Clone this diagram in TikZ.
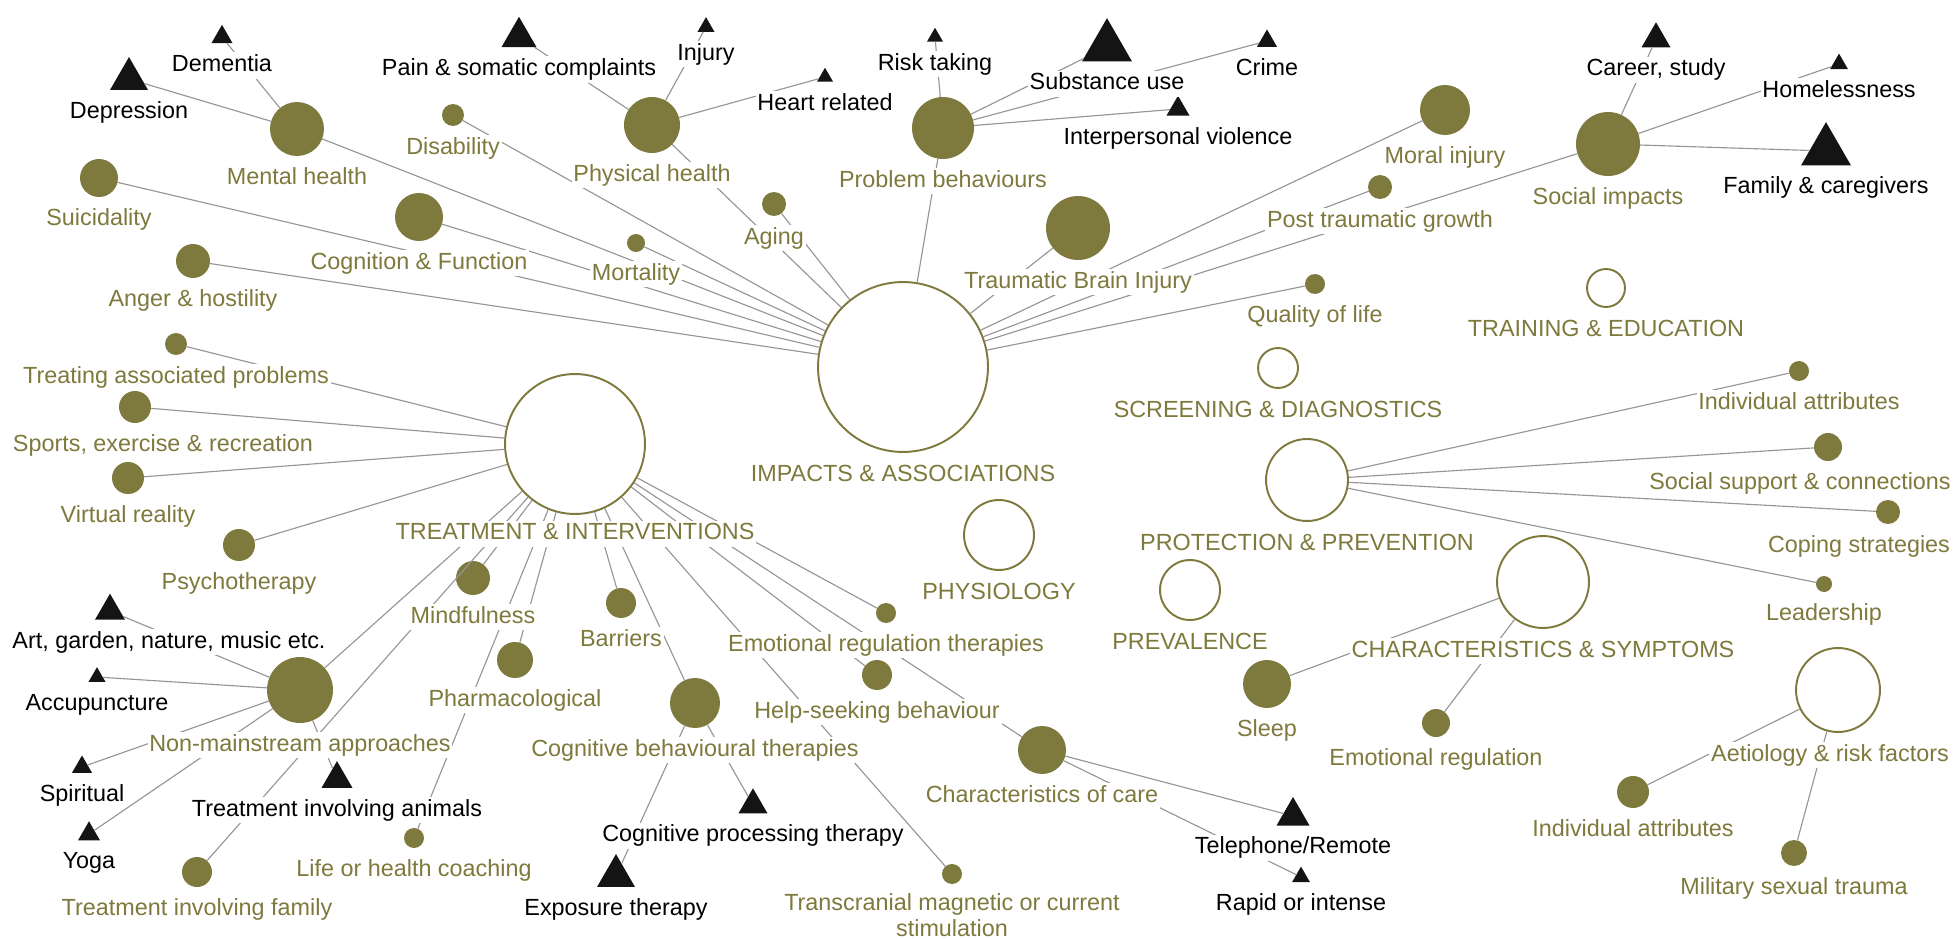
\documentclass[tikz,border=0pt]{standalone}
\usepackage{fontspec}
\setmainfont{Liberation Sans}
\usetikzlibrary{positioning,shapes.geometric}

\definecolor{olivedot}{RGB}{126,121,60}
\definecolor{linkgray}{RGB}{150,150,150}

\tikzset{
  theme/.style={circle, draw=olivedot, line width=1.1pt, fill=white, inner sep=0pt, minimum size=#1*0.04cm},
  topic/.style={circle, fill=olivedot, inner sep=0pt, outer sep=0pt, minimum size=#1*0.04cm},
  subtopic/.style={regular polygon, regular polygon sides=3, fill=black!92, inner sep=0pt, outer sep=0pt, minimum size=#1*0.0231cm},
  lbl/.style={text=olivedot, fill=white, inner sep=1pt, text height=10pt, text depth=3pt},
  sublbl/.style={lbl, text=black},
  link/.style={draw=linkgray, line width=0.65pt},
  node distance=5pt,
}

\begin{document}
\begin{tikzpicture}[x=0.02cm, y=-0.02cm, font=\fontsize{13.3}{16}\selectfont]
			\useasboundingbox (0,0) rectangle (1954,939);
			% impacts & associations
			\node (imp) [theme=85] at (903,367) {};
			\node (mh) [topic=27] at (297,129) {};
			\node (dis) [topic=11] at (453,115) {};
			\node (sui) [topic=19] at (99,178) {};
			\node (cog) [topic=24] at (419,217) {};
			\node (ang) [topic=17] at (193,261) {};
			\node (phy) [topic=28] at (652,125) {};
			\node (agi) [topic=12] at (774,204) {};
			\node (mort) [topic=9] at (636,243) {};
			\node (prb) [topic=31] at (943,128) {};
			\node (tbi) [topic=32] at (1078,228) {};
			\node (moi) [topic=25] at (1445,110) {};
			\node (ptg) [topic=12] at (1380,187) {};
			\node (soc) [topic=32] at (1608,144) {};
			\node (qol) [topic=10] at (1315,284) {};
			\node (dem) [subtopic=21] at (222,37) {};
			\node (dep) [subtopic=38] at (129,79) {};
			\node (pain) [subtopic=35] at (519,37) {};
			\node (inj) [subtopic=17] at (706,27) {};
			\node (hrt) [subtopic=16] at (825,77) {};
			\node (rsk) [subtopic=16] at (935,37) {};
			\node (sub) [subtopic=50] at (1107,47) {};
			\node (cri) [subtopic=20] at (1267,41) {};
			\node (ipv) [subtopic=23] at (1178,109) {};
			\node (car) [subtopic=29] at (1656,39) {};
			\node (hom) [subtopic=18] at (1839,64) {};
			\node (fam) [subtopic=50] at (1826,151) {};
			% treatment & interventions
			\node (trt) [theme=70] at (575,444) {};
			\node (tap) [topic=11] at (176,344) {};
			\node (spo) [topic=16] at (135,407) {};
			\node (vr) [topic=16] at (128,478) {};
			\node (psy) [topic=16] at (239,545) {};
			\node (mind) [topic=17] at (473,578) {};
			\node (nonm) [topic=33] at (300,690) {};
			\node (pha) [topic=18] at (515,660) {};
			\node (lhc) [topic=10] at (414,838) {};
			\node (tif) [topic=15] at (197,872) {};
			\node (bar) [topic=15] at (621,603) {};
			\node (cbt) [topic=25] at (695,703) {};
			\node (ert) [topic=10] at (886,613) {};
			\node (hsb) [topic=15] at (877,675) {};
			\node (tms) [topic=10] at (952,874) {};
			\node (coc) [topic=24] at (1042,750) {};
			\node (art) [subtopic=30] at (110,611) {};
			\node (acu) [subtopic=17] at (97,677) {};
			\node (spi) [subtopic=20] at (82,767) {};
			\node (yog) [subtopic=22] at (89,834) {};
			\node (ani) [subtopic=31] at (337,779) {};
			\node (cpt) [subtopic=29] at (753,805) {};
			\node (expo) [subtopic=38] at (616,876) {};
			\node (tel) [subtopic=33] at (1293,816) {};
			\node (rap) [subtopic=18] at (1301,877) {};
			% other themes
			\node (scr) [theme=20] at (1278,368) {};
			\node (trn) [theme=19] at (1606,288) {};
			\node (phys) [theme=35] at (999,535) {};
			\node (prev) [theme=30] at (1190,590) {};
			\node (prot) [theme=41] at (1307,480) {};
			\node (chs) [theme=46] at (1543,582) {};
			\node (aet) [theme=42] at (1838,690) {};
			\node (ia) [topic=10] at (1799,371) {};
			\node (ssc) [topic=14] at (1828,447) {};
			\node (cop) [topic=12] at (1888,512) {};
			\node (lea) [topic=8] at (1824,584) {};
			\node (slp) [topic=24] at (1267,684) {};
			\node (emr) [topic=14] at (1436,723) {};
			\node (iar) [topic=16] at (1633,792) {};
			\node (mst) [topic=13] at (1794,853) {};

			\path[link] (imp) edge (mh) edge (dis) edge (sui) edge (cog) edge (ang)
				edge (phy) edge (agi) edge (mort) edge (prb) edge (tbi)
				edge (moi) edge (ptg) edge (soc) edge (qol)
			(mh) edge (dep) edge (dem)
			(phy) edge (pain) edge (inj) edge (hrt)
			(prb) edge (rsk) edge (sub) edge (cri) edge (ipv)
			(soc) edge (car) edge (hom) edge (fam)
			(trt) edge (tap) edge (spo) edge (vr) edge (psy) edge (nonm)
				edge (tif) edge (mind) edge (pha) edge (lhc) edge (bar)
				edge (cbt) edge (hsb) edge (tms) edge (coc) edge (ert)
			(nonm) edge (art) edge (acu) edge (spi) edge (yog) edge (ani)
			(cbt) edge (cpt) edge (expo)
			(coc) edge (tel) edge (rap)
			(prot) edge (ia) edge (ssc) edge (cop) edge (lea)
			(chs) edge (slp) edge (emr)
			(aet) edge (iar) edge (mst);

			% labels, drawn last so that they mask the links
			\node (impl) [lbl, below=of imp] {IMPACTS \& ASSOCIATIONS};
			\node (mhl) [lbl, below=of mh] {Mental health};
			\node (disl) [lbl, below=of dis] {Disability};
			\node (suil) [lbl, below=of sui] {Suicidality};
			\node (cogl) [lbl, below=of cog] {Cognition \& Function};
			\node (angl) [lbl, below=of ang] {Anger \& hostility};
			\node (phyl) [lbl, below=of phy] {Physical health};
			\node (agil) [lbl, below=of agi] {Aging};
			\node (mortl) [lbl, below=of mort] {Mortality};
			\node (prbl) [lbl, below=of prb] {Problem behaviours};
			\node (tbil) [lbl, below=of tbi] {Traumatic Brain Injury};
			\node (moil) [lbl, below=of moi] {Moral injury};
			\node (ptgl) [lbl, below=of ptg] {Post traumatic growth};
			\node (socl) [lbl, below=of soc] {Social impacts};
			\node (qoll) [lbl, below=of qol] {Quality of life};
			\node (deml) [sublbl, below=of dem] {Dementia};
			\node (depl) [sublbl, below=of dep] {Depression};
			\node (painl) [sublbl, below=of pain] {Pain \& somatic complaints};
			\node (injl) [sublbl, below=of inj] {Injury};
			\node (hrtl) [sublbl, below=of hrt] {Heart related};
			\node (rskl) [sublbl, below=of rsk] {Risk taking};
			\node (subl) [sublbl, below=of sub] {Substance use};
			\node (cril) [sublbl, below=of cri] {Crime};
			\node (ipvl) [sublbl, below=of ipv] {Interpersonal violence};
			\node (carl) [sublbl, below=of car] {Career, study};
			\node (homl) [sublbl, below=of hom] {Homelessness};
			\node (faml) [sublbl, below=of fam] {Family \& caregivers};

			\node (trtl) [lbl, below=3pt of trt] {TREATMENT \& INTERVENTIONS};
			\node (tapl) [lbl, below=of tap] {Treating associated problems};
			\node (spol) [lbl, below=of spo, xshift=0.56cm] {Sports, exercise \& recreation};
			\node (vrl) [lbl, below=of vr] {Virtual reality};
			\node (psyl) [lbl, below=of psy] {Psychotherapy};
			\node (mindl) [lbl, below=of mind] {Mindfulness};
			\node (nonml) [lbl, below=of nonm] {Non-mainstream approaches};
			\node (phal) [lbl, below=of pha] {Pharmacological};
			\node (lhcl) [lbl, below=of lhc] {Life or health coaching};
			\node (tifl) [lbl, below=of tif] {Treatment involving family};
			\node (barl) [lbl, below=of bar] {Barriers};
			\node (cbtl) [lbl, below=of cbt] {Cognitive behavioural therapies};
			\node (ertl) [lbl, below=of ert] {Emotional regulation therapies};
			\node (hsbl) [lbl, below=of hsb] {Help-seeking behaviour};
			\node (tmsl) [lbl, align=center, text height=, text depth=, font=\fontsize{13.3}{15}\selectfont, below=4pt of tms] {Transcranial magnetic or current\\stimulation};
			\node (cocl) [lbl, below=of coc] {Characteristics of care};
			\node (artl) [sublbl, below=of art, xshift=1.18cm] {Art, garden, nature, music etc.};
			\node (acul) [sublbl, below=of acu] {Accupuncture};
			\node (spil) [sublbl, below=of spi] {Spiritual};
			\node (yogl) [sublbl, below=of yog] {Yoga};
			\node (anil) [sublbl, below=of ani] {Treatment involving animals};
			\node (cptl) [sublbl, below=of cpt] {Cognitive processing therapy};
			\node (expol) [sublbl, below=of expo] {Exposure therapy};
			\node (tell) [sublbl, below=of tel] {Telephone/Remote};
			\node (rapl) [sublbl, below=of rap] {Rapid or intense};

			\node (scrl) [lbl, below=of scr] {SCREENING \& DIAGNOSTICS};
			\node (trnl) [lbl, below=of trn] {TRAINING \& EDUCATION};
			\node (physl) [lbl, below=of phys] {PHYSIOLOGY};
			\node (prevl) [lbl, below=of prev] {PREVALENCE};
			\node (protl) [lbl, below=of prot] {PROTECTION \& PREVENTION};
			\node (chsl) [lbl, below=of chs] {CHARACTERISTICS \& SYMPTOMS};
			\node (aetl) [lbl, below=of aet, xshift=-0.16cm] {Aetiology \& risk factors};
			\node (ial) [lbl, below=of ia] {Individual attributes};
			\node (sscl) [lbl, below=of ssc, xshift=-0.56cm] {Social support \& connections};
			\node (copl) [lbl, below=of cop, xshift=-0.58cm] {Coping strategies};
			\node (leal) [lbl, below=of lea] {Leadership};
			\node (slpl) [lbl, below=of slp] {Sleep};
			\node (emrl) [lbl, below=of emr] {Emotional regulation};
			\node (iarl) [lbl, below=of iar] {Individual attributes};
			\node (mstl) [lbl, below=of mst] {Military sexual trauma};
		\end{tikzpicture}
\end{document}
